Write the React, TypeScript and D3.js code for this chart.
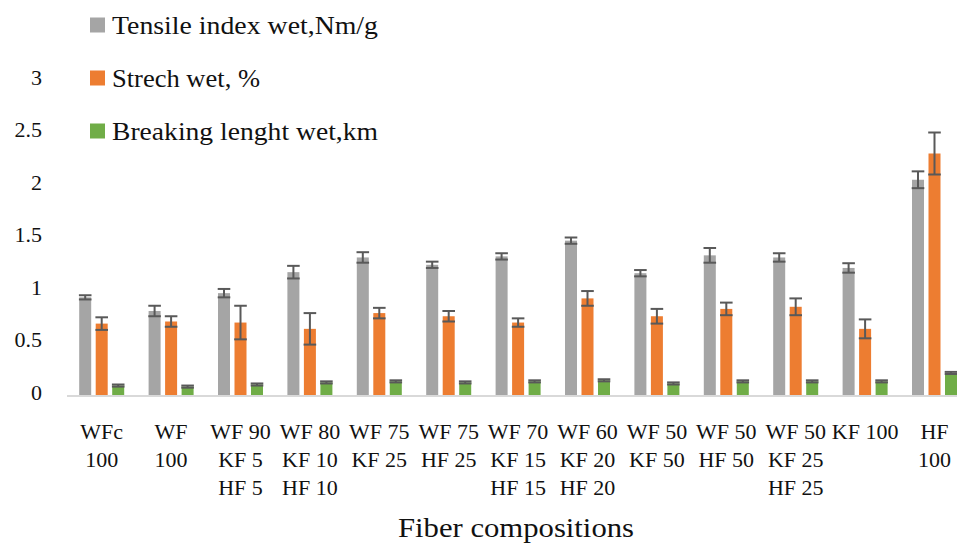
import React from "react";
import * as d3 from "d3";

// Fibre blends on the horizontal axis (each line of a label is a separate entry)
const categories: string[][] = [
  ["WFc", "100"],
  ["WF", "100"],
  ["WF 90", "KF 5", "HF 5"],
  ["WF 80", "KF 10", "HF 10"],
  ["WF 75", "KF 25"],
  ["WF 75", "HF 25"],
  ["WF 70", "KF 15", "HF 15"],
  ["WF 60", "KF 20", "HF 20"],
  ["WF 50", "KF 50"],
  ["WF 50", "HF 50"],
  ["WF 50", "KF 25", "HF 25"],
  ["KF 100"],
  ["HF", "100"],
];

const seriesNames = [
  "Tensile index wet,Nm/g",
  "Strech wet, %",
  "Breaking lenght wet,km",
];
const seriesColors = ["#A5A5A5", "#ED7D31", "#70AD47"];
// rendered widths of the legend entries
const legendWidths = [266, 148, 266];

const tensileWet = [0.93, 0.8, 0.97, 1.17, 1.31, 1.24, 1.32, 1.47, 1.16, 1.33, 1.31, 1.21, 2.05];
const tensileErr = [0.02, 0.05, 0.04, 0.06, 0.05, 0.03, 0.03, 0.03, 0.03, 0.07, 0.04, 0.045, 0.08];

const stretchWet = [0.68, 0.7, 0.69, 0.63, 0.78, 0.75, 0.69, 0.92, 0.75, 0.82, 0.84, 0.63, 2.3];
const stretchErr = [0.06, 0.05, 0.16, 0.15, 0.05, 0.05, 0.04, 0.07, 0.07, 0.06, 0.08, 0.09, 0.2];

const breakingWet = [0.09, 0.08, 0.1, 0.12, 0.13, 0.12, 0.13, 0.14, 0.11, 0.13, 0.13, 0.13, 0.21];
const breakingErr = [0.01, 0.01, 0.01, 0.01, 0.01, 0.01, 0.01, 0.01, 0.01, 0.01, 0.01, 0.01, 0.01];

const yTicks = [0, 0.5, 1, 1.5, 2, 2.5, 3];
const yTickLabels = ["0", "0.5", "1", "1.5", "2", "2.5", "3"];

const axisTitle = "Fiber compositions";

const W = 957;
const H = 545;
const FONT = "'Liberation Serif', 'Times New Roman', serif";

export default function App() {
  const values = [tensileWet, stretchWet, breakingWet];
  const errors = [tensileErr, stretchErr, breakingErr];

  const plotLeft = 67;
  const step = 69.4;
  const x0 = d3
    .scaleBand<number>()
    .domain(categories.map((_, i) => i))
    .range([plotLeft, plotLeft + step * categories.length])
    .padding(0);

  const groupW = 49.5;
  const x1 = d3
    .scaleBand<number>()
    .domain([0, 1, 2])
    .range([(x0.bandwidth() - groupW) / 2, (x0.bandwidth() + groupW) / 2])
    .paddingInner(0.2727)
    .paddingOuter(0.13635);

  const y = d3.scaleLinear().domain([0, 3]).range([395, 80]);
  const bw = x1.bandwidth();

  return (
    <svg
      width={W}
      height={H}
      style={{ position: "absolute", left: 0, top: 0, background: "#fff" }}
      fontFamily={FONT}
    >
      {/* value axis labels */}
      {yTicks.map((t, i) => (
        <text
          key={t}
          x={42}
          y={y(t) - 3}
          dy="0.35em"
          textAnchor="end"
          fontSize={22}
          fill="#111"
        >
          {yTickLabels[i]}
        </text>
      ))}

      {/* bars */}
      {categories.map((_, ci) => (
        <g key={ci} transform={`translate(${x0(ci)},0)`}>
          {values.map((vals, si) => (
            <rect
              key={si}
              x={x1(si)}
              y={y(vals[ci])}
              width={bw}
              height={y(0) - y(vals[ci])}
              fill={seriesColors[si]}
            />
          ))}
        </g>
      ))}

      {/* error bars */}
      {categories.map((_, ci) => (
        <g key={ci} transform={`translate(${x0(ci)},0)`}>
          {values.map((vals, si) => {
            const cx = (x1(si) as number) + bw / 2;
            const hi = y(vals[ci] + errors[si][ci]);
            const lo = y(vals[ci] - errors[si][ci]);
            const half = 6.3;
            return (
              <g key={si} stroke="#595959" strokeWidth={2}>
                <line x1={cx} x2={cx} y1={hi} y2={lo} />
                <line x1={cx - half} x2={cx + half} y1={hi} y2={hi} />
                <line x1={cx - half} x2={cx + half} y1={lo} y2={lo} />
              </g>
            );
          })}
        </g>
      ))}

      {/* category axis line */}
      <line x1={plotLeft} x2={W} y1={396} y2={396} stroke="#D9D9D9" strokeWidth={2} />

      {/* category labels */}
      {categories.map((lines, ci) => (
        <text
          key={ci}
          x={(x0(ci) as number) + x0.bandwidth() / 2}
          textAnchor="middle"
          fontSize={22}
          fill="#111"
        >
          {lines.map((ln, li) => (
            <tspan key={li} x={(x0(ci) as number) + x0.bandwidth() / 2} y={439 + li * 28}>
              {ln}
            </tspan>
          ))}
        </text>
      ))}

      {/* axis title */}
      <text
        x={516}
        y={537}
        textAnchor="middle"
        fontSize={28}
        fill="#111"
        textLength={236}
        lengthAdjust="spacingAndGlyphs"
      >
        {axisTitle}
      </text>

      {/* legend */}
      {seriesNames.map((name, i) => {
        const cy = 25 + i * 53;
        return (
          <g key={name}>
            <rect x={90} y={cy - 7.5} width={15} height={15} fill={seriesColors[i]} />
            <text
              x={112}
              y={cy}
              dy="0.35em"
              fontSize={26}
              fill="#111"
              textLength={legendWidths[i]}
              lengthAdjust="spacingAndGlyphs"
            >
              {name}
            </text>
          </g>
        );
      })}
    </svg>
  );
}
